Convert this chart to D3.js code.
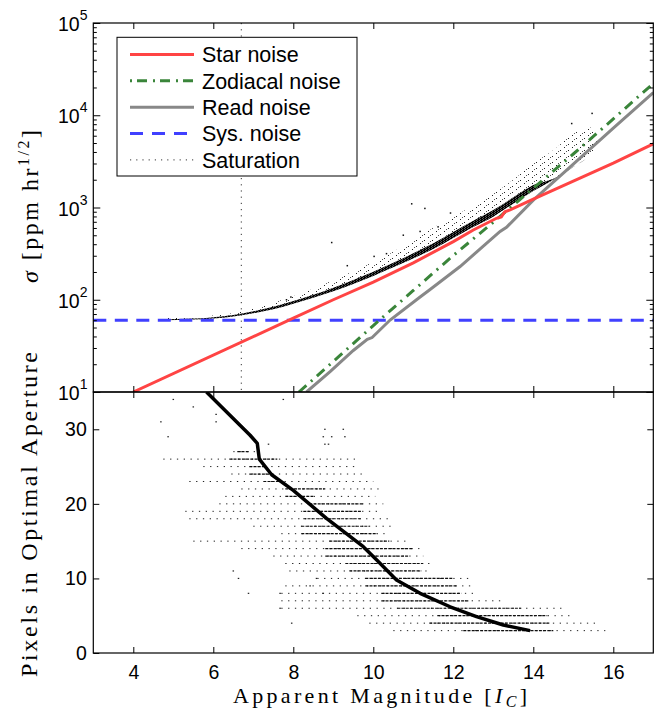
<!DOCTYPE html>
<html><head><meta charset="utf-8">
<script src="https://cdn.jsdelivr.net/npm/d3@7"></script>
<style>body{margin:0;background:#fff}svg{font-family:"Liberation Sans",Arial,sans-serif}</style>
</head><body><svg id="c" width="660" height="710"></svg>
<script>
// ---------- data ----------
const magTicks=[4,6,8,10,12,14,16];
const sigmaTicks=[10,100,1000,10000,100000];
const sigmaTickExp=["1","2","3","4","5"];
const sigmaMinor=[20,30,40,50,60,70,80,90,200,300,400,500,600,700,800,900,2000,3000,4000,5000,6000,7000,8000,9000,20000,30000,40000,50000,60000,70000,80000,90000];
const npixTicks=[0,10,20,30];

const legendLabels=["Star noise","Zodiacal noise","Read noise","Sys. noise","Saturation"];

const starMag=[4,8,9,10,11,12,12.5,13.08,13.2,13.29,13.42,14,15,16,17];
const starSigma=[10,63.1,100,155,251,427,570,764,790,899,940,1230,1928,3020,4900];

const zodiMag=[8.14,9,10,11,12,13,14,15,16,17];
const zodiSigma=[10,21.4,52.5,126,302,692,1622,3802,9120,22130];

const readMag=[8.33,8.92,9.5,9.85,9.97,10.42,11.17,11.42,12.17,12.8,13.17,13.33,14,15,16,17];
const readSigma=[10,16.6,28.2,37.2,38.9,60.3,107,129,229,398,550,610,1202,2951,7244,17580];

const sysSigma=60;
const saturationMag=6.7;

// top panel scatter band (edges)
const scatMag=[4.7,5.5,6.5,7.5,8.5,9.5,10.5,11.5,12.5,13.0,13.5,14.0,14.5,15.0,15.5,15.6];
const scatLo=[60,61,66,79,105,148,225,355,615,795,1100,1510,2000,2750,4170,5000];
const scatCore=[61.5,62.5,68.5,84,113,164,252,410,720,940,1290,1750,2050,2760,4170,5000];
const scatHalo=[63,65,72,93,132,204,331,603,1050,1410,2000,3020,4170,6310,7410,5200];
const outMag=[7.83,7.94,8.96,9.35,10.02,10.33,10.75,10.96,11.17,11.29,11.62,11.93,14.96,15.47];
const outSigma=[100,107,417,234,295,316,501,1096,550,977,617,871,8130,10470];

// bottom panel
const apMag=[5.83,6.92,7.10,7.15,7.46,8.0,8.83,9.75,10.08,10.58,11.17,11.92,12.58,13.25,13.92];
const apNpix=[35,29.2,28.1,26,23.9,21.8,18.06,14.26,12.5,9.8,8.0,6.2,4.87,3.75,3.0];

const rowNpix=[3,4,5,6,7,8,9,10,11,12,13,14,15,16,17,18,19,20,21,22,23,24,25,26,27];
const rowSparseLo=[10.5,9.9,9.6,7.7,7.7,7.7,7.8,8.6,7.9,7.8,7.5,6.7,5.5,7.7,7.0,5.4,5.3,6.15,6.3,6.7,5.4,6.45,5.75,4.75,6.5];
const rowDenseLo=[12.25,11.4,11.6,10.6,10.2,10.2,9.8,9.8,9.4,9.3,8.8,8.8,8.9,8.2,8.2,8.25,8.25,8.4,7.8,7.8,7.25,6.9,6.9,6.4,6.6];
const rowDenseHi=[14.5,14.4,14.35,13.7,12.4,12.2,12.1,12.0,11.2,11.25,10.9,11.0,10.4,10.1,9.9,9.7,9.7,9.75,8.5,8.8,7.7,7.5,7.3,7.6,6.9];
const rowSparseHi=[15.8,15.6,15.0,14.75,13.2,12.5,12.5,12.4,11.35,11.5,11.25,11.25,10.85,10.4,10.5,10.4,10.2,10.25,10.05,10.15,10.0,9.75,9.6,9.55,7.1];
const bOutMag=[5.0,7.75,5.5,6.07,4.69,6.07,8.79,9.25,4.87,8.75,8.96,9.29,7.38,8.79,8.88,6.5,6.63,8.58,8.42,6.88,7.67,8.75,7.67,7.96];
const bOutNpix=[34,34,33,32,31,31,30,30,29,29,29,29,28,28,28,11,10,10,9,8,8,8,6,4];

// ---------- layout ----------
const L=93.3,R=653.3,T1=23,B1=392,T2=392,B2=653;
const svg=d3.select("#c");
const x=d3.scaleLinear().domain([3,17]).range([L,R]);
const yT=d3.scaleLog().domain([10,1e5]).range([B1,T1]);
const yB=d3.scaleLinear().domain([0,35]).range([B2,T2]);

const defs=svg.append("defs");
defs.append("clipPath").attr("id","clipT").append("rect").attr("x",L).attr("y",T1).attr("width",R-L).attr("height",B1-T1);
defs.append("clipPath").attr("id","clipB").append("rect").attr("x",L).attr("y",T2).attr("width",R-L).attr("height",B2-T2);
const pat=defs.append("pattern").attr("id","halo").attr("patternUnits","userSpaceOnUse").attr("width",8).attr("height",6);
pat.append("rect").attr("x",0).attr("y",0).attr("width",1).attr("height",1).attr("fill","#222");
pat.append("rect").attr("x",4).attr("y",3).attr("width",1).attr("height",1).attr("fill","#222");
pat.append("rect").attr("x",6).attr("y",1).attr("width",1).attr("height",1).attr("fill","#555");
const pc=defs.append("pattern").attr("id","core").attr("patternUnits","userSpaceOnUse").attr("width",3).attr("height",2);
pc.append("rect").attr("x",0).attr("y",0).attr("width",3).attr("height",2).attr("fill","#555");
pc.append("rect").attr("x",0).attr("y",0).attr("width",2).attr("height",1).attr("fill","#000");
pc.append("rect").attr("x",1).attr("y",1).attr("width",2).attr("height",1).attr("fill","#000");

// ---------- top panel ----------
const gT=svg.append("g").attr("clip-path","url(#clipT)");
const scat=scatMag.map((m,i)=>({m,lo:scatLo[i],c:scatCore[i],h:scatHalo[i]}));
gT.append("path").datum(scat).attr("fill","url(#halo)")
  .attr("d",d3.area().x(d=>x(d.m)).y0(d=>yT(d.c)).y1(d=>yT(d.h)).curve(d3.curveMonotoneX));
gT.append("path").datum(scat).attr("fill","url(#core)")
  .attr("d",d3.area().x(d=>x(d.m)).y0(d=>yT(d.lo)).y1(d=>yT(d.c)).curve(d3.curveMonotoneX));
gT.selectAll("rect.out").data(outMag.map((m,i)=>[m,outSigma[i]])).join("rect")
  .attr("x",d=>x(d[0])-0.75).attr("y",d=>yT(d[1])-0.75).attr("width",1.5).attr("height",1.5).attr("fill","#111");

const lineT=d3.line().x(d=>x(d[0])).y(d=>yT(d[1]));
gT.append("line").attr("x1",x(saturationMag)).attr("x2",x(saturationMag)).attr("y1",T1).attr("y2",B1)
  .attr("stroke","#333").attr("stroke-width",1).attr("stroke-dasharray","1.2,5");
gT.append("line").attr("x1",L).attr("x2",R).attr("y1",yT(sysSigma)).attr("y2",yT(sysSigma))
  .attr("stroke","#4040ff").attr("stroke-width",3).attr("stroke-dasharray","13,8.5");
gT.append("path").attr("d",lineT(readMag.map((m,i)=>[m,readSigma[i]]))).attr("fill","none").attr("stroke","#888").attr("stroke-width",3);
gT.append("path").attr("d",lineT(zodiMag.map((m,i)=>[m,zodiSigma[i]]))).attr("fill","none").attr("stroke","#3a853a").attr("stroke-width",3).attr("stroke-dasharray","10,6,2,6");
gT.append("path").attr("d",lineT(starMag.map((m,i)=>[m,starSigma[i]]))).attr("fill","none").attr("stroke","#ff4444").attr("stroke-width",3);

// ---------- bottom panel ----------
const gB=svg.append("g").attr("clip-path","url(#clipB)");
rowNpix.forEach((n,i)=>{
  gB.append("line").attr("x1",x(rowSparseLo[i])).attr("x2",x(rowSparseHi[i])).attr("y1",yB(n)).attr("y2",yB(n))
    .attr("stroke","#222").attr("stroke-width",1).attr("stroke-dasharray","1.3,5.5");
  gB.append("line").attr("x1",x(rowDenseLo[i])).attr("x2",x(rowDenseHi[i])).attr("y1",yB(n)).attr("y2",yB(n))
    .attr("stroke","#111").attr("stroke-width",1.2).attr("stroke-dasharray","3,1.2");
});
gB.selectAll("rect.bo").data(bOutMag.map((m,i)=>[m,bOutNpix[i]])).join("rect")
  .attr("x",d=>x(d[0])-0.75).attr("y",d=>yB(d[1])-0.6).attr("width",1.5).attr("height",1.2).attr("fill","#222");
gB.append("path").attr("d",d3.line().x(d=>x(d[0])).y(d=>yB(d[1]))(apMag.map((m,i)=>[m,apNpix[i]])))
  .attr("fill","none").attr("stroke","#000").attr("stroke-width",3.5).attr("stroke-linejoin","round");

// ---------- axes ----------
function ax(gen,tx,ty){const g=svg.append("g").attr("transform",`translate(${tx},${ty})`).call(gen);g.select(".domain").remove();return g;}
const tickFont=19.5;
ax(d3.axisBottom(x).tickValues(magTicks).tickSize(-6).tickFormat(""),0,B1);
ax(d3.axisTop(x).tickValues(magTicks).tickSize(-6).tickFormat(""),0,T1);
ax(d3.axisLeft(yT).tickValues(sigmaTicks).tickSize(-7).tickFormat(""),L,0);
ax(d3.axisLeft(yT).tickValues(sigmaMinor).tickSize(-3.5).tickFormat(""),L,0);
ax(d3.axisRight(yT).tickValues(sigmaTicks).tickSize(-7).tickFormat(""),R,0);
ax(d3.axisRight(yT).tickValues(sigmaMinor).tickSize(-3.5).tickFormat(""),R,0);
const bx=ax(d3.axisBottom(x).tickValues(magTicks).tickSize(-6).tickPadding(12.5),0,B2);
bx.selectAll("text").attr("font-size",tickFont).attr("font-family","Liberation Sans, Arial, sans-serif").attr("fill","#000");
ax(d3.axisTop(x).tickValues(magTicks).tickSize(-6).tickFormat(""),0,T2);
const by=ax(d3.axisLeft(yB).tickValues(npixTicks).tickSize(-6).tickPadding(6.5),L,0);
by.selectAll("text").attr("font-size",tickFont).attr("font-family","Liberation Sans, Arial, sans-serif").attr("fill","#000");
ax(d3.axisRight(yB).tickValues([10,20,30]).tickSize(-6).tickFormat(""),R,0);

sigmaTicks.forEach((v,i)=>{
  const t=svg.append("text").attr("x",87.5).attr("y",yT(v)+8).attr("text-anchor","end").attr("font-size",tickFont);
  t.append("tspan").text("10");
  t.append("tspan").attr("dy",-11).attr("font-size",14).text(sigmaTickExp[i]);
});

svg.append("rect").attr("x",L).attr("y",T1).attr("width",R-L).attr("height",B1-T1).attr("fill","none").attr("stroke","#000").attr("stroke-width",1.2);
svg.append("rect").attr("x",L).attr("y",T2).attr("width",R-L).attr("height",B2-T2).attr("fill","none").attr("stroke","#000").attr("stroke-width",1.2);

// ---------- legend ----------
const lg=svg.append("g");
lg.append("rect").attr("x",117).attr("y",37.3).attr("width",240).attr("height",138.7).attr("fill","#fff").attr("stroke","#000").attr("stroke-width",1);
const lstyles=[
  {c:"#ff4444",w:3,d:null},
  {c:"#3a853a",w:3,d:"2,5,10,6"},
  {c:"#888",w:3,d:null},
  {c:"#4040ff",w:3,d:"13,9"},
  {c:"#333",w:1,d:"1.2,5"}
];
legendLabels.forEach((lab,i)=>{
  const yy=54.5+i*26.35;
  const s=lstyles[i];
  const ln=lg.append("line").attr("x1",130).attr("x2",194).attr("y1",yy).attr("y2",yy).attr("stroke",s.c).attr("stroke-width",s.w);
  if(s.d) ln.attr("stroke-dasharray",s.d);
  lg.append("text").attr("x",202).attr("y",yy+7.8).attr("font-size",21.5).text(lab);
});

// ---------- axis titles ----------
const serif="Liberation Serif, Times New Roman, serif";
const xl=svg.append("text").attr("x",233).attr("y",703).attr("font-family",serif).attr("font-size",22)
  .attr("textLength",294).attr("lengthAdjust","spacing");
xl.append("tspan").text("Apparent Magnitude [");
xl.append("tspan").attr("font-style","italic").text("I");
xl.append("tspan").attr("font-style","italic").attr("font-size",16).attr("dy",4).text("C");
xl.append("tspan").attr("dy",-4).text("]");

const yl1=svg.append("text").attr("transform","translate(38,283) rotate(-90)").attr("font-family",serif).attr("font-size",24)
  .attr("textLength",153).attr("lengthAdjust","spacing");
yl1.append("tspan").attr("font-style","italic").text("σ");
yl1.append("tspan").text(" [ppm hr");
yl1.append("tspan").attr("font-size",16).attr("dy",-9).text("1/2");
yl1.append("tspan").attr("dy",9).text("]");

svg.append("text").attr("transform","translate(37,677) rotate(-90)").attr("font-family",serif).attr("font-size",24)
  .attr("textLength",325).attr("lengthAdjust","spacing").text("Pixels in Optimal Aperture");
</script></body></html>
